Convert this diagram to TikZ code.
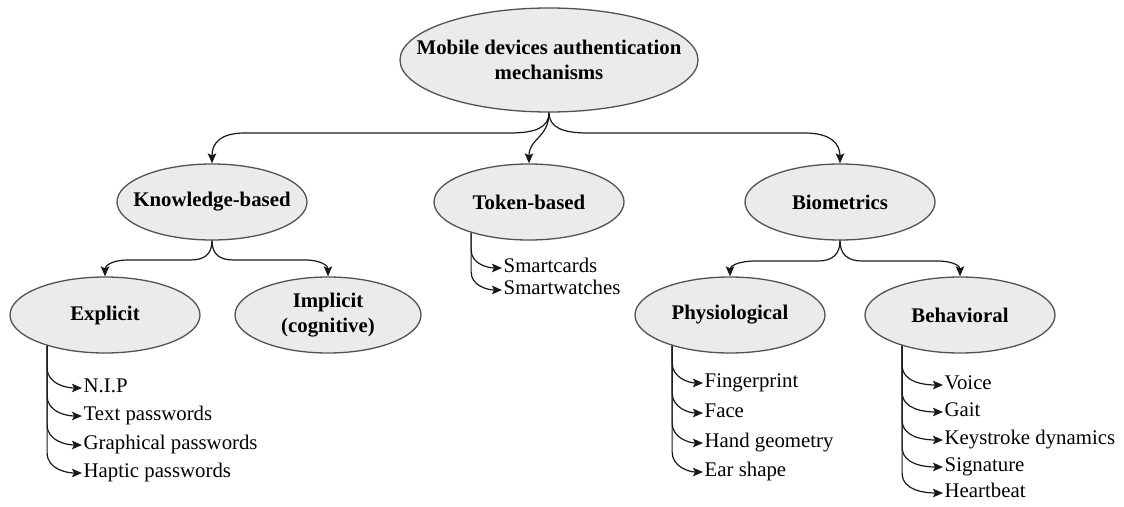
\documentclass[tikz,border=0pt]{standalone}
\usepackage{fontspec}
\setmainfont{Liberation Serif}
\usetikzlibrary{arrows.meta,calc,shapes.geometric}
\begin{document}
\begin{tikzpicture}[x=1pt,y=-1pt,
  box/.style={ellipse, draw=black!68, line width=1.3pt, fill=black!8,
    inner xsep=-80pt, inner ysep=-30pt, minimum width=190pt, minimum height=76pt,
    font=\fontsize{20.8}{25}\selectfont\bfseries, align=center, text=black},
  item/.style={anchor=west, inner xsep=1.5pt, inner ysep=0pt, text height=14pt, text depth=4.5pt,
    font=\fontsize{20.8}{25}\selectfont, text=black},
  arr/.style={draw=black!90, line width=1.2pt, -{Stealth[length=10pt,width=8.5pt,inset=2pt]}},
  leaf/.style={arr},
]
\useasboundingbox (0,0) rectangle (1124,506);

% ellipses
\node[box, minimum width=298pt, minimum height=104pt] (top) at (549,60) {Mobile devices authentication\\mechanisms};
\node[box] (kb) at (212,202) {Knowledge-based};
\node[box] (tok) at (529,202) {Token-based};
\node[box] (bio) at (840,202) {Biometrics};
\node[box] (ex) at (105,315) {Explicit};
\node[box, minimum width=186pt] (im) at (328,315) {Implicit\\(cognitive)};
\node[box] (ph) at (730,315) {Physiological};
\node[box] (be) at (960,315) {Behavioral};

% top-level connectors
\draw[arr] (top.south) .. controls +(0,15) and +(25,0) .. (510,133) -- (245,133)
  .. controls +(-25,0) and +(0,-20) .. (kb.north);
\draw[arr] (top.south) .. controls +(0,25) and +(0,-25) .. (tok.north);
\draw[arr] (top.south) .. controls +(0,15) and +(-25,0) .. (588,133) -- (805,133)
  .. controls +(25,0) and +(0,-20) .. (bio.north);

% second-level connectors
\draw[arr] (kb.south) .. controls +(0,14) and +(14,0) .. (190,260) -- (128,260)
  .. controls +(-17,0) and +(0,-10) .. (ex.north);
\draw[arr] (kb.south) .. controls +(0,14) and +(-14,0) .. (234,260) -- (305,260)
  .. controls +(17,0) and +(0,-10) .. (im.north);
\draw[arr] (bio.south) .. controls +(0,14) and +(14,0) .. (818,261) -- (755,261)
  .. controls +(-17,0) and +(0,-10) .. (ph.north);
\draw[arr] (bio.south) .. controls +(0,14) and +(-14,0) .. (862,261) -- (937,261)
  .. controls +(17,0) and +(0,-10) .. (be.north);

% leaves: explicit
\node[item] (nip) at (82,388) {N.I.P};
\node[item] (txt) at (82,416) {Text passwords};
\node[item] (gra) at (82,445) {Graphical passwords};
\node[item] (hap) at (82,473) {Haptic passwords};
\foreach \n in {nip,txt,gra,hap}
  \draw[leaf] (ex.208) -- ($(ex.208 |- \n.west)+(0,-20)$) to[out=-90,in=180] (\n.west);

% leaves: token
\node[item] (sc) at (502,268) {Smartcards};
\node[item] (sw) at (502,290) {Smartwatches};
\foreach \n in {sc,sw}
  \draw[leaf] (tok.208) -- ($(tok.208 |- \n.west)+(0,-18)$) to[out=-90,in=180] (\n.west);

% leaves: physiological
\node[item] (fp) at (703,383) {Fingerprint};
\node[item] (fa) at (703,413) {Face};
\node[item] (hg) at (703,443) {Hand geometry};
\node[item] (es) at (703,472) {Ear shape};
\foreach \n in {fp,fa,hg,es}
  \draw[leaf] (ph.208) -- ($(ph.208 |- \n.west)+(0,-20)$) to[out=-90,in=180] (\n.west);

% leaves: behavioral
\node[item] (vo) at (943,385) {Voice};
\node[item] (ga) at (943,412) {Gait};
\node[item] (ks) at (943,440) {Keystroke dynamics};
\node[item] (sg) at (943,467) {Signature};
\node[item] (hb) at (943,493) {Heartbeat};
\foreach \n in {vo,ga,ks,sg,hb}
  \draw[leaf] (be.208) -- ($(be.208 |- \n.west)+(0,-20)$) to[out=-90,in=180] (\n.west);
\end{tikzpicture}
\end{document}
